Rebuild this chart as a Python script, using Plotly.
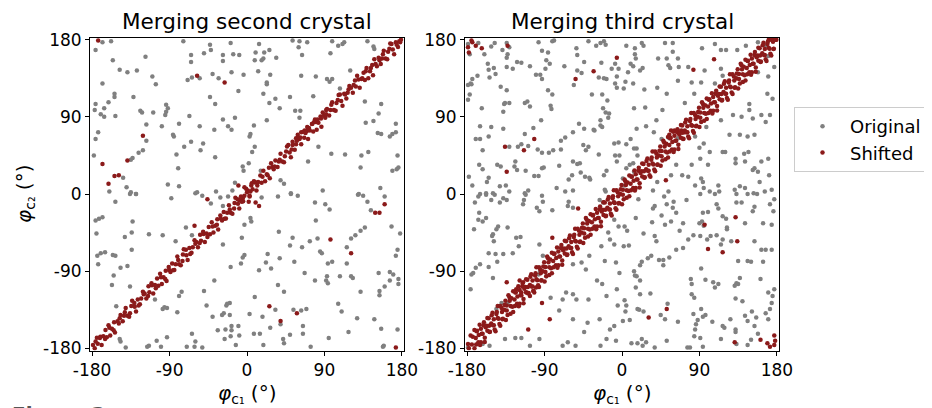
import plotly.graph_objects as go

# ---------------- data (degrees) ----------------
p1_original = [
    (-168,177),(-158,178),(-176,168),(-74,178),(-43,174),(-19,176),(-42,168),(-156,156),(-118,160),(-65,162),
    (-50,164),(-65,154),(-28,162),(-16,163),(-9,162),(-28,155),(-148,145),(-139,142),(-128,144),(-110,137),
    (-106,128),(-69,133),(-64,136),(-55,135),(-40,140),(-33,135),(-18,142),(-4,139),(-168,129),(-154,117),
    (-154,113),(-132,113),(-43,113),(-10,120),(-37,105),(-161,107),(-176,105),(-166,100),(-177,98),(-170,93),
    (-166,90),(-153,91),(-124,97),(-122,95),(-109,95),(-94,104),(-92,100),(-94,96),(-95,92),(-67,91),
    (-14,89),(-28,87),(-117,81),(-99,79),(-79,82),(-55,79),(-22,79),(-18,75),(-38,75),(-173,72),
    (-176,64),(-86,69),(-85,67),(-117,62),(-65,61),(-51,59),(-73,55),(-54,51),(-121,51),(-126,48),
    (-133,42),(-135,40),(-178,45),(-82,46),(-37,43),(-5,32),(-4,27),(-80,30),(-144,19),(-14,13),
    (-140,8),(-135,2),(-129,0),(-160,3),(-92,11),(-79,9),(-58,2),(-36,3),(-17,4),
    (14,175),(53,179),(61,178),(70,177),(99,178),(106,173),(113,177),(111,175),(140,178),(147,172),
    (148,169),(60,171),(10,165),(9,156),(19,158),(26,168),(20,165),(17,156),(34,159),(64,162),
    (97,164),(120,144),(13,143),(27,139),(23,130),(23,128),(63,138),(80,137),(93,134),(99,134),
    (96,131),(108,123),(19,117),(33,111),(26,106),(38,100),(50,113),(77,114),(137,108),(156,105),
    (153,94),(138,83),(147,85),(173,82),(56,97),(62,97),(61,89),(23,86),(8,80),(4,70),
    (3,67),(152,71),(156,70),(166,67),(169,70),(173,72),(9,55),(6,49),(83,55),(98,47),
    (114,46),(133,45),(141,49),(175,45),(71,38),(2,36),(16,27),(39,16),(43,12),(51,1),
    (88,4),(132,31),(169,27),(174,29),(176,31),(155,7),(130,0),
    (-153,-9),(-136,0),(-129,0),(-88,-5),(-60,1),(-52,-2),(-42,-11),(-31,-4),(-22,-3),(-28,-14),
    (-176,-31),(-172,-29),(-168,-27),(-133,-32),(-175,-46),(-142,-50),(-134,-45),(-114,-47),(-98,-48),(-71,-39),
    (-64,-48),(-83,-55),(-28,-59),(-3,-36),(-6,-51),(-174,-72),(-170,-69),(-165,-68),(-156,-71),(-153,-72),
    (-173,-82),(-134,-65),(-147,-86),(-139,-84),(-155,-95),(-157,-106),(-136,-108),(-76,-114),(-50,-113),(-38,-101),
    (-19,-85),(-3,-71),(-5,-74),(-7,-81),(-107,-123),(-79,-119),(-152,-131),(-98,-134),(-96,-132),(-93,-133),
    (-81,-138),(-47,-130),(-40,-143),(-27,-139),(-29,-141),(-23,-128),(-20,-127),(-24,-130),(-20,-141),(-148,-169),
    (-147,-172),(-141,-179),(-116,-178),(-114,-177),(-105,-171),(-93,-167),(-100,-178),(-70,-178),(-64,-163),(-60,-172),
    (-61,-178),(-52,-179),(-34,-159),(-25,-158),(-18,-154),(-18,-159),(-26,-169),(-19,-166),(-9,-165),(-10,-154),
    (-13,-176),
    (17,-4),(36,-3),(51,0),(59,-2),(79,-10),(91,-12),(96,-18),(129,-1),(135,-2),(140,-9),
    (144,-19),(160,-3),(4,-28),(5,-32),(80,-31),(37,-44),(168,-38),(178,-46),(137,-39),(132,-43),
    (126,-48),(121,-52),(116,-62),(53,-51),(50,-60),(64,-62),(73,-55),(82,-52),(85,-67),(87,-69),
    (24,-70),(38,-75),(22,-80),(28,-87),(14,-89),(55,-79),(67,-92),(94,-81),(99,-79),(116,-81),
    (79,-101),(92,-101),(93,-96),(94,-104),(108,-96),(121,-96),(123,-98),(153,-92),(166,-91),(170,-94),
    (176,-99),(166,-101),(176,-105),(160,-108),(154,-113),(154,-118),(175,-65),(173,-72),(132,-114),(36,-106),
    (43,-114),(9,-120),(106,-128),(110,-137),(33,-135),(54,-135),(63,-136),(69,-134),(3,-140),(18,-143),
    (128,-145),(148,-146),(39,-152),(27,-156),(65,-154),(65,-163),(8,-163),(15,-163),(50,-164),(118,-161),
    (156,-157),(175,-158),(42,-169),(43,-174),(95,-168),(19,-176),(74,-178),(158,-178),(159,-177),
]

p1_shifted = [
    # off-diagonal points
    (-173,179),(-58,138),(-26,130),(-121,68),(-139,39),(-168,35),(-154,21),(-149,22),(-161,12),(-46,-6),
    (-61,-37),(160,-12),(149,-22),(154,-22),(97,-53),(121,-69),(26,-131),(39,-148),(58,-139),(173,-179),
    # extra points of the diagonal band
    (53,61),(57,65),(59,69),(63,72),(67,74),(70,78),(76,82),(80,84),(86,88),(92,98),
    (-5,-5),(-9,-7),(5,10),(9,14),(-10,10),(-3,8),(10,-10),(14,-14),(3,-3),(2,-9),
    # diagonal band
    (-179,-176),(-177,-180),(-174.5,-167.5),(-173.5,-174.5),(-170.5,-166.5),(-169,-176),(-167,-166),(-164.5,-158.5),(-163,-167),(-161,-153),
    (-159,-165),(-157,-157),(-154.5,-149.5),(-153.5,-161.5),(-150.5,-148.5),(-149,-151),(-147,-141),(-144.5,-148.5),(-143,-142),(-141,-133),
    (-139,-142),(-137,-143),(-134.5,-130.5),(-133.5,-124.5),(-130.5,-131.5),(-129,-137),(-127,-123),(-124.5,-128.5),(-123,-122),(-121,-114),
    (-119,-116),(-117,-122),(-114.5,-107.5),(-113.5,-114.5),(-110.5,-106.5),(-109,-116),(-107,-106),(-104.5,-98.5),(-103,-107),(-101,-93),
    (-99,-105),(-97,-97),(-94.5,-89.5),(-93.5,-101.5),(-90.5,-88.5),(-89,-91),(-87,-81),(-84.5,-88.5),(-83,-82),(-81,-73),
    (-79,-82),(-77,-83),(-74.5,-70.5),(-73.5,-64.5),(-70.5,-71.5),(-69,-77),(-67,-63),(-64.5,-68.5),(-63,-62),(-61,-54),
    (-59,-56),(-57,-62),(-54.5,-47.5),(-53.5,-54.5),(-50.5,-46.5),(-49,-56),(-47,-46),(-44.5,-38.5),(-43,-47),(-41,-33),
    (-39,-45),(-37,-37),(-34.5,-29.5),(-33.5,-41.5),(-30.5,-28.5),(-29,-31),(-27,-21),(-24.5,-28.5),(-23,-22),(-21,-13),
    (-19,-22),(-17,-23),(-14.5,-10.5),(-13.5,-4.5),(-10.5,-11.5),(-9,-17),(-7,-3),(-4.5,-8.5),(-3,-2),(-1,6),
    (1,4),(3,-2),(5.5,12.5),(6.5,5.5),(9.5,13.5),(11,4),(13,14),(15.5,21.5),(17,13),(19,27),
    (21,15),(23,23),(25.5,30.5),(26.5,18.5),(29.5,31.5),(31,29),(33,39),(35.5,31.5),(37,38),(39,47),
    (41,38),(43,37),(45.5,49.5),(46.5,55.5),(49.5,48.5),(51,43),(53,57),(55.5,51.5),(57,58),(59,66),
    (61,64),(63,58),(65.5,72.5),(66.5,65.5),(69.5,73.5),(71,64),(73,74),(75.5,81.5),(77,73),(79,87),
    (81,75),(83,83),(85.5,90.5),(86.5,78.5),(89.5,91.5),(91,89),(93,99),(95.5,91.5),(97,98),(99,107),
    (101,98),(103,97),(105.5,109.5),(106.5,115.5),(109.5,108.5),(111,103),(113,117),(115.5,111.5),(117,118),(119,126),
    (121,124),(123,118),(125.5,132.5),(126.5,125.5),(129.5,133.5),(131,124),(133,134),(135.5,141.5),(137,133),(139,147),
    (141,135),(143,143),(145.5,150.5),(146.5,138.5),(149.5,151.5),(151,149),(153,159),(155.5,151.5),(157,158),(159,167),
    (161,158),(163,157),(165.5,169.5),(166.5,175.5),(169.5,168.5),(171,163),(173,177),(175.5,171.5),(177,178),(179,180),
    # diagonal band, second strip
    (-176,-172),(-171,-168),(-165,-169),(-160,-156),(-155,-159),(-148,-145),(-142,-138),(-136,-139),(-131,-127),(-126,-130),
    (-120,-117),(-115,-119),(-111,-104),(-106,-110),(-100,-97),(-95,-99),(-91,-85),(-86,-89),(-80,-77),(-75,-78),
    (-71,-65),(-66,-70),(-60,-58),(-55,-57),(-51,-44),(-46,-50),(-40,-38),(-35,-36),(-31,-25),(-26,-29),
    (-20,-18),(-15,-17),(-11,-6),(-6,-9),(0,2),(4,3),(8,15),(12,10),(18,20),(24,22),
    (28,36),(32,32),(38,40),(44,44),(48,57),(52,52),(58,62),(62,66),(68,71),(72,77),
    (78,84),(82,87),(88,95),(92,93),(98,104),(104,106),(108,116),(114,116),(118,122),(124,127),
    (128,138),(134,135),(138,143),(144,147),(148,157),(154,156),(158,163),(164,166),(168,175),(174,174),
    (178,177),
]

p2_original = [
    (-179,175),(-177,163),(-167,176),(-160,163),(-152,172),(-148,176),(-139,168),(-134,176),(-131,171),(-133,163),
    (-134,159),(-122,154),(-117,153),(-107,149),(-97,177),(-93,167),(-86,165),(-79,179),(-81,178),(-88,156),
    (-84,152),(-89,146),(-100,139),(-95,139),(-93,134),(-134,148),(-127,146),(-156,152),(-149,147),(-155,145),
    (-147,140),(-154,136),(-168,138),(-174,134),(-176,129),(-179,127),(-175,128),(-141,125),(-134,121),(-177,116),
    (-179,110),(-67,149),(-53,170),(-52,162),(-44,154),(-52,144),(-47,141),(-39,178),(-30,173),(-25,176),
    (-21,178),(-19,174),(-24,153),(-12,146),(-8,152),(-4,146),(-27,136),(-21,135),(-18,134),(-6,137),
    (-8,129),(-6,124),(-56,127),(-35,116),(-23,116),(-17,109),(-86,121),(-81,116),(-163,100),(-136,106),
    (-131,106),(-138,96),(-137,105),(-113,106),(-110,108),(-107,102),(-83,103),(-82,99),(-22,100),(-19,95),
    (-15,94),(-16,89),(-25,86),(-25,80),(-23,78),(-50,82),(-44,76),(-33,75),(-32,74),(-57,72),
    (-165,79),(-152,78),(-138,76),(-94,86),(-103,77),(-113,70),(-170,64),(-165,64),(-155,67),(-131,55),
    (-117,58),(-121,55),(-109,56),(-98,52),(-93,48),(-85,48),(-80,51),(-71,52),(-71,62),(-66,66),
    (-39,55),(-42,51),(-45,57),(-27,46),(-9,59),(-4,60),(-8,45),(-6,38),(-3,45),(-162,51),
    (-124,38),(-125,32),(-122,28),(-112,27),(-102,21),(-97,21),(-91,31),(-93,30),(-73,33),(-166,34),
    (-162,29),(-155,19),(-157,14),(-145,34),(-141,32),(-178,20),(-174,10),(-142,9),(-135,10),(-57,38),
    (-52,35),(-49,36),(-48,25),(-58,22),(-62,17),(-43,20),(-38,19),(-37,17),(-18,27),(-21,22),
    (-20,5),(-19,3),(-57,4),(-66,3),(-76,7),(-113,1),(-109,4),(-131,3),(-150,1),(-165,0),
    (-158,1),
    (5,173),(15,170),(23,176),(25,173),(15,163),(16,158),(10,152),(13,149),(24,147),(21,144),
    (7,142),(4,131),(13,129),(2,123),(50,176),(59,176),(59,166),(42,158),(52,158),(65,158),
    (54,150),(56,147),(66,148),(77,148),(93,170),(108,175),(115,168),(121,168),(134,168),(144,173),
    (158,177),(167,173),(96,144),(115,146),(108,129),(117,138),(92,130),(81,130),(65,132),(41,124),
    (26,122),(52,117),(73,106),(84,117),(27,101),(14,100),(47,98),(40,86),(28,79),(17,76),
    (10,64),(5,58),(14,53),(17,53),(18,45),(37,72),(46,64),(55,65),(65,65),(95,59),
    (90,54),(85,67),(98,78),(115,86),(129,92),(139,90),(152,88),(162,92),(167,84),(172,92),
    (175,111),(169,117),(170,137),(177,148),(158,142),(170,161),(148,98),(148,105),(125,69),(137,69),
    (146,67),(154,69),(117,49),(120,49),(132,41),(132,36),(143,38),(147,49),(142,47),(162,38),
    (154,30),(158,26),(152,28),(170,41),(171,22),(160,14),(153,1),(166,3),(174,5),(131,5),
    (143,7),(137,9),(112,10),(113,3),(102,3),(92,18),(94,14),(95,7),(85,10),(77,20),
    (70,22),(57,22),(63,34),(81,34),(91,41),(100,34),(102,49),(5,30),(9,34),(13,36),
    (14,26),(3,10),(1,18),(54,3),(36,4),(41,14),
    (-167,-3),(-158,-1),(-148,-1),(-138,-5),(-134,-7),(-152,-7),(-142,-10),(-171,-10),(-112,-1),(-114,-7),
    (-115,-12),(-93,-2),(-92,-9),(-99,-16),(-96,-20),(-81,-19),(-62,-9),(-63,-14),(-57,-16),(-166,-22),
    (-158,-28),(-162,-32),(-167,-30),(-172,-41),(-144,-38),(-146,-41),(-133,-39),(-150,-47),(-149,-55),(-151,-49),
    (-123,-51),(-118,-50),(-155,-69),(-147,-70),(-138,-70),(-127,-69),(-145,-79),(-155,-85),(-165,-82),(-170,-86),
    (-175,-94),(-173,-92),(-150,-98),(-176,-111),(-9,-30),(-4,-38),(-16,-45),(-14,-53),(-9,-59),(-24,-61),
    (-20,-78),(-38,-72),(-47,-80),(-57,-82),(-42,-88),(-29,-101),(-23,-105),(-65,-115),(-57,-117),(-53,-123),
    (-39,-123),(-7,-80),(-3,-92),(-6,-111),(-18,-119),(-5,-130),(-26,-146),(-40,-150),(-44,-161),(-57,-146),
    (-63,-173),(-69,-177),(-54,-177),(-25,-177),(-18,-169),(-14,-158),(-9,-154),(-7,-171),(-96,-169),(-107,-177),
    (-124,-168),(-117,-168),(-136,-169),(-154,-177),(-162,-175),(-179,-179),(-73,-136),(-69,-123),(-83,-121),(-96,-59),
    (-92,-72),(-88,-96),(-95,-90),(-97,-94),(-120,-61),(-121,-130),(-9,-10),(-26,-7),(-22,-10),(-146,-134),
    (-133,-127),(-140,-127),
    (19,-6),(36,-17),(38,-14),(52,-12),(59,-16),(60,-9),(75,-7),(91,0),(108,0),(133,0),
    (146,0),(157,0),(172,-12),(176,-20),(177,-6),(133,-10),(139,-10),(154,-15),(152,-20),(112,-17),
    (117,-26),(121,-29),(122,-39),(122,-41),(110,-48),(117,-53),(115,-59),(127,-55),(100,-21),(93,-32),
    (90,-34),(95,-37),(94,-22),(16,-28),(35,-33),(46,-25),(50,-36),(57,-32),(63,-22),(71,-34),
    (67,-43),(77,-53),(83,-48),(91,-49),(99,-53),(103,-49),(3,-38),(6,-43),(2,-61),(8,-60),
    (25,-46),(40,-55),(38,-49),(71,-63),(63,-65),(55,-74),(48,-77),(43,-77),(48,-83),(34,-72),
    (30,-75),(23,-79),(21,-83),(14,-90),(15,-95),(17,-96),(21,-101),(16,-109),(21,-117),(33,-116),
    (53,-128),(3,-124),(5,-130),(4,-137),(1,-148),(9,-147),(18,-134),(20,-135),(25,-137),(45,-141),
    (50,-146),(65,-149),(80,-99),(81,-105),(84,-121),(81,-117),(92,-87),(97,-100),(106,-103),(112,-105),
    (108,-109),(131,-107),(133,-104),(137,-98),(135,-105),(132,-122),(140,-125),(135,-78),(146,-78),(150,-79),
    (164,-79),(161,-99),(170,-115),(177,-111),(175,-119),(174,-127),(172,-134),(167,-139),(143,-142),(146,-148),
    (151,-137),(154,-154),(156,-144),(132,-158),(132,-161),(126,-146),(117,-154),(119,-156),(105,-149),(92,-134),
    (97,-141),(94,-143),(88,-147),(83,-140),(86,-152),(85,-158),(84,-166),(91,-168),(76,-179),(79,-179),
    (94,-178),(115,-169),(133,-175),(146,-176),(150,-170),(158,-163),(170,-146),(52,-171),(38,-179),(28,-173),
    (23,-169),(18,-174),(11,-174),(24,-177),(110,-12),(49,-3),(174,-36),(143,-34),(164,-34),(154,-55),
    (162,-65),(167,-65),(174,-65),
]

p2_shifted = [
    # off-diagonal points
    (-175,179),(-174,177),(-179,171),(-170,173),(-163,170),(-178,165),(-133,173),(-6,159),(-33,143),(-54,134),
    (-136,55),(-102,64),(-114,51),(-134,26),(107,157),(83,145),(51,16),(-51,-17),(-81,-51),(-93,-127),
    (-84,-146),(-109,-158),(-134,-103),(132,-27),(96,-36),(134,-55),(100,-64),(117,-68),(52,-134),(31,-144),
    (131,-173),(161,-170),(169,-174),(172,-178),(177,-165),(177,-176),(178,-171),
    # features of the diagonal band
    (57,74),(61,74),(65,72),(69,74),(73,72),(55,69),(-119,-101),(-115,-103),(-123,-111),(-117,-115),
    (-111,-115),(-107,-119),(-103,-113),(-100,-109),
    # diagonal band, first strip
    (-179,-175),(-178,-180),(-176,-165),(-174.5,-175.5),(-173.5,-166.5),(-171.5,-180),(-170,-168),(-169,-160),(-167,-173),(-165.5,-152.5),
    (-164,-173),(-163,-163),(-161,-153),(-159.5,-172.5),(-158.5,-155.5),(-156.5,-159.5),(-155,-145),(-154,-161),(-152,-151),(-150.5,-138.5),
    (-149,-153),(-148,-158),(-146,-140),(-144.5,-130.5),(-143.5,-145.5),(-141.5,-153.5),(-140,-133),(-139,-146),(-137,-135),(-135.5,-124.5),
    (-134,-130),(-133,-141),(-131,-120),(-129.5,-130.5),(-128.5,-121.5),(-126.5,-137.5),(-125,-123),(-124,-115),(-122,-128),(-120.5,-107.5),
    (-119,-128),(-118,-118),(-116,-108),(-114.5,-127.5),(-113.5,-110.5),(-111.5,-114.5),(-110,-100),(-109,-116),(-107,-106),(-105.5,-93.5),
    (-104,-108),(-103,-113),(-101,-95),(-99.5,-85.5),(-98.5,-100.5),(-96.5,-108.5),(-95,-88),(-94,-101),(-92,-90),(-90.5,-79.5),
    (-89,-85),(-88,-96),(-86,-75),(-84.5,-85.5),(-83.5,-76.5),(-81.5,-92.5),(-80,-78),(-79,-70),(-77,-83),(-75.5,-62.5),
    (-74,-83),(-73,-73),(-71,-63),(-69.5,-82.5),(-68.5,-65.5),(-66.5,-69.5),(-65,-55),(-64,-71),(-62,-61),(-60.5,-48.5),
    (-59,-63),(-58,-68),(-56,-50),(-54.5,-40.5),(-53.5,-55.5),(-51.5,-63.5),(-50,-43),(-49,-56),(-47,-45),(-45.5,-34.5),
    (-44,-40),(-43,-51),(-41,-30),(-39.5,-40.5),(-38.5,-31.5),(-36.5,-47.5),(-35,-33),(-34,-25),(-32,-38),(-30.5,-17.5),
    (-29,-38),(-28,-28),(-26,-18),(-24.5,-37.5),(-23.5,-20.5),(-21.5,-24.5),(-20,-10),(-19,-26),(-17,-16),(-15.5,-3.5),
    (-14,-18),(-13,-23),(-11,-5),(-9.5,4.5),(-8.5,-10.5),(-6.5,-18.5),(-5,2),(-4,-11),(-2,0),(-0.5,10.5),
    (1,5),(2,-6),(4,15),(5.5,4.5),(6.5,13.5),(8.5,-2.5),(10,12),(11,20),(13,7),(14.5,27.5),
    (16,7),(17,17),(19,27),(20.5,7.5),(21.5,24.5),(23.5,20.5),(25,35),(26,19),(28,29),(29.5,41.5),
    (31,27),(32,22),(34,40),(35.5,49.5),(36.5,34.5),(38.5,26.5),(40,47),(41,34),(43,45),(44.5,55.5),
    (46,50),(47,39),(49,60),(50.5,49.5),(51.5,58.5),(53.5,42.5),(55,57),(56,65),(58,52),(59.5,72.5),
    (61,52),(62,62),(64,72),(65.5,52.5),(66.5,69.5),(68.5,65.5),(70,80),(71,64),(73,74),(74.5,86.5),
    (76,72),(77,67),(79,85),(80.5,94.5),(81.5,79.5),(83.5,71.5),(85,92),(86,79),(88,90),(89.5,100.5),
    (91,95),(92,84),(94,105),(95.5,94.5),(96.5,103.5),(98.5,87.5),(100,102),(101,110),(103,97),(104.5,117.5),
    (106,97),(107,107),(109,117),(110.5,97.5),(111.5,114.5),(113.5,110.5),(115,125),(116,109),(118,119),(119.5,131.5),
    (121,117),(122,112),(124,130),(125.5,139.5),(126.5,124.5),(128.5,116.5),(130,137),(131,124),(133,135),(134.5,145.5),
    (136,140),(137,129),(139,150),(140.5,139.5),(141.5,148.5),(143.5,132.5),(145,147),(146,155),(148,142),(149.5,162.5),
    (151,142),(152,152),(154,162),(155.5,142.5),(156.5,159.5),(158.5,155.5),(160,170),(161,154),(163,164),(164.5,176.5),
    (166,162),(167,157),(169,175),(170.5,180),(171.5,169.5),(173.5,161.5),(175,180),(176,169),(178,180),(179.5,180),
    # diagonal band, second strip
    (-171.5,-158.5),(-169.5,-175.5),(-168.5,-159.5),(-166.5,-164.5),(-165,-176),(-164,-157),(-162,-163),(-160.5,-149.5),(-159.5,-167.5),(-157.5,-153.5),
    (-156.5,-144.5),(-154.5,-153.5),(-153.5,-160.5),(-151.5,-141.5),(-150,-153),(-149,-146),(-147,-160),(-145.5,-137.5),(-144.5,-144.5),(-142.5,-151.5),
    (-141.5,-130.5),(-139.5,-137.5),(-138.5,-145.5),(-136.5,-129.5),(-135,-147),(-134,-136),(-132,-118),(-130.5,-124.5),(-129.5,-139.5),(-127.5,-131.5),
    (-126.5,-113.5),(-124.5,-130.5),(-123.5,-114.5),(-121.5,-119.5),(-120,-131),(-119,-112),(-117,-118),(-115.5,-104.5),(-114.5,-122.5),(-112.5,-108.5),
    (-111.5,-99.5),(-109.5,-108.5),(-108.5,-115.5),(-106.5,-96.5),(-105,-108),(-104,-101),(-102,-115),(-100.5,-92.5),(-99.5,-99.5),(-97.5,-106.5),
    (-96.5,-85.5),(-94.5,-92.5),(-93.5,-100.5),(-91.5,-84.5),(-90,-102),(-89,-91),(-87,-73),(-85.5,-79.5),(-84.5,-94.5),(-82.5,-86.5),
    (-81.5,-68.5),(-79.5,-85.5),(-78.5,-69.5),(-76.5,-74.5),(-75,-86),(-74,-67),(-72,-73),(-70.5,-59.5),(-69.5,-77.5),(-67.5,-63.5),
    (-66.5,-54.5),(-64.5,-63.5),(-63.5,-70.5),(-61.5,-51.5),(-60,-63),(-59,-56),(-57,-70),(-55.5,-47.5),(-54.5,-54.5),(-52.5,-61.5),
    (-51.5,-40.5),(-49.5,-47.5),(-48.5,-55.5),(-46.5,-39.5),(-45,-57),(-44,-46),(-42,-28),(-40.5,-34.5),(-39.5,-49.5),(-37.5,-41.5),
    (-36.5,-23.5),(-34.5,-40.5),(-33.5,-24.5),(-31.5,-29.5),(-30,-41),(-29,-22),(-27,-28),(-25.5,-14.5),(-24.5,-32.5),(-22.5,-18.5),
    (-21.5,-9.5),(-19.5,-18.5),(-18.5,-25.5),(-16.5,-6.5),(-15,-18),(-14,-11),(-12,-25),(-10.5,-2.5),(-9.5,-9.5),(-7.5,-16.5),
    (-6.5,4.5),(-4.5,-2.5),(-3.5,-10.5),(-1.5,5.5),(0,-12),(1,-1),(3,17),(4.5,10.5),(5.5,-4.5),(7.5,3.5),
    (8.5,21.5),(10.5,4.5),(11.5,20.5),(13.5,15.5),(15,4),(16,23),(18,17),(19.5,30.5),(20.5,12.5),(22.5,26.5),
    (23.5,35.5),(25.5,26.5),(26.5,19.5),(28.5,38.5),(30,27),(31,34),(33,20),(34.5,42.5),(35.5,35.5),(37.5,28.5),
    (38.5,49.5),(40.5,42.5),(41.5,34.5),(43.5,50.5),(45,33),(46,44),(48,62),(49.5,55.5),(50.5,40.5),(52.5,48.5),
    (53.5,66.5),(55.5,49.5),(56.5,65.5),(58.5,60.5),(60,49),(61,68),(63,62),(64.5,75.5),(65.5,57.5),(67.5,71.5),
    (68.5,80.5),(70.5,71.5),(71.5,64.5),(73.5,83.5),(75,72),(76,79),(78,65),(79.5,87.5),(80.5,80.5),(82.5,73.5),
    (83.5,94.5),(85.5,87.5),(86.5,79.5),(88.5,95.5),(90,78),(91,89),(93,107),(94.5,100.5),(95.5,85.5),(97.5,93.5),
    (98.5,111.5),(100.5,94.5),(101.5,110.5),(103.5,105.5),(105,94),(106,113),(108,107),(109.5,120.5),(110.5,102.5),(112.5,116.5),
    (113.5,125.5),(115.5,116.5),(116.5,109.5),(118.5,128.5),(120,117),(121,124),(123,110),(124.5,132.5),(125.5,125.5),(127.5,118.5),
    (128.5,139.5),(130.5,132.5),(131.5,124.5),(133.5,140.5),(135,123),(136,134),(138,152),(139.5,145.5),(140.5,130.5),(142.5,138.5),
    (143.5,156.5),(145.5,139.5),(146.5,155.5),(148.5,150.5),(150,139),(151,158),(153,152),(154.5,165.5),(155.5,147.5),(157.5,161.5),
    (158.5,170.5),(160.5,161.5),(161.5,154.5),(163.5,173.5),(165,162),(166,169),(168,155),(169.5,177.5),(170.5,170.5),(172.5,163.5),
    (173.5,180),(175.5,177.5),(176.5,169.5),(178.5,180),
]

panel_titles = ["Merging second crystal", "Merging third crystal"]
series_names = ["Original", "Shifted"]
tick_values = [-180, -90, 0, 90, 180]
tick_labels = ["-180", "-90", "0", "90", "180"]

# ---------------- styling ----------------
FONT = "DejaVu Sans"
GRAY = "#808080"
RED = "#8b1a1a"
W, H = 932, 408
PAGE_OFFSET = 8   # the page body adds an 8 px margin around the figure

def xs(pts):
    return [p[0] for p in pts]

def ys(pts):
    return [p[1] for p in pts]

fig = go.Figure()
panels = [(p1_original, p1_shifted, "x", "y"), (p2_original, p2_shifted, "x2", "y2")]
for i, (orig, shif, xa, ya) in enumerate(panels):
    fig.add_trace(go.Scatter(x=xs(orig), y=ys(orig), mode="markers", name=series_names[0],
                             marker=dict(color=GRAY, size=4.5, line=dict(width=0)),
                             xaxis=xa, yaxis=ya, showlegend=(i == 1), legendrank=1))
for i, (orig, shif, xa, ya) in enumerate(panels):
    fig.add_trace(go.Scatter(x=xs(shif), y=ys(shif), mode="markers", name=series_names[1],
                             marker=dict(color=RED, size=4.5, line=dict(width=0)),
                             xaxis=xa, yaxis=ya, showlegend=(i == 1), legendrank=2))

def px2x(p):
    return (p - PAGE_OFFSET) / W

def px2y(p):
    return 1 - (p - PAGE_OFFSET) / H

ax_common = dict(range=[-182.5, 182.5], tickmode="array", tickvals=tick_values, ticktext=tick_labels,
                 ticks="outside", ticklen=4, tickwidth=1, tickcolor="black",
                 showline=True, linecolor="black", linewidth=1, mirror=True,
                 showgrid=False, zeroline=False, tickfont=dict(family=FONT, size=17, color="black"),
                 fixedrange=True, automargin=False)

y_dom = [px2y(350.5), px2y(37.5)]
fig.update_layout(
    width=W, height=H,
    margin=dict(l=0, r=0, t=0, b=0, pad=0, autoexpand=False),
    paper_bgcolor="white", plot_bgcolor="white",
    font=dict(family=FONT, color="black"),
    xaxis=dict(domain=[px2x(90), px2x(404)], anchor="y", **ax_common),
    yaxis=dict(domain=y_dom, anchor="x", **ax_common),
    xaxis2=dict(domain=[px2x(465), px2x(779)], anchor="y2", **ax_common),
    yaxis2=dict(domain=y_dom, anchor="x2", **ax_common),
    legend=dict(x=px2x(794), y=px2y(107), xanchor="left", yanchor="top",
                bordercolor="#cccccc", borderwidth=1, bgcolor="white",
                font=dict(family=FONT, size=18, color="black"), itemwidth=45,
                traceorder="normal"),
    showlegend=True,
)

xlabel = "<i>φ</i><sub>c₁</sub> (°)"
ylabel = "<i>φ</i><sub>c₂</sub> (°)"
ann = []
for cx, t in zip([247, 622], panel_titles):
    ann.append(dict(text=t, x=px2x(cx), y=px2y(21), xref="paper", yref="paper",
                    showarrow=False, xanchor="center", yanchor="middle",
                    font=dict(family=FONT, size=21.5, color="black")))
    ann.append(dict(text=xlabel, x=px2x(cx), y=px2y(394), xref="paper", yref="paper",
                    showarrow=False, xanchor="center", yanchor="middle",
                    font=dict(family=FONT, size=20, color="black")))
ann.append(dict(text=ylabel, x=px2x(25), y=px2y(194), xref="paper", yref="paper",
                showarrow=False, xanchor="center", yanchor="middle", textangle=-90,
                font=dict(family=FONT, size=20, color="black")))
ann.append(dict(text="<b>Figure 2</b>", x=px2x(10), y=px2y(400), xref="paper", yref="paper",
                showarrow=False, xanchor="left", yanchor="top",
                font=dict(family=FONT, size=20, color="#555555")))
fig.update_layout(annotations=ann)

fig.write_html("out.html")
